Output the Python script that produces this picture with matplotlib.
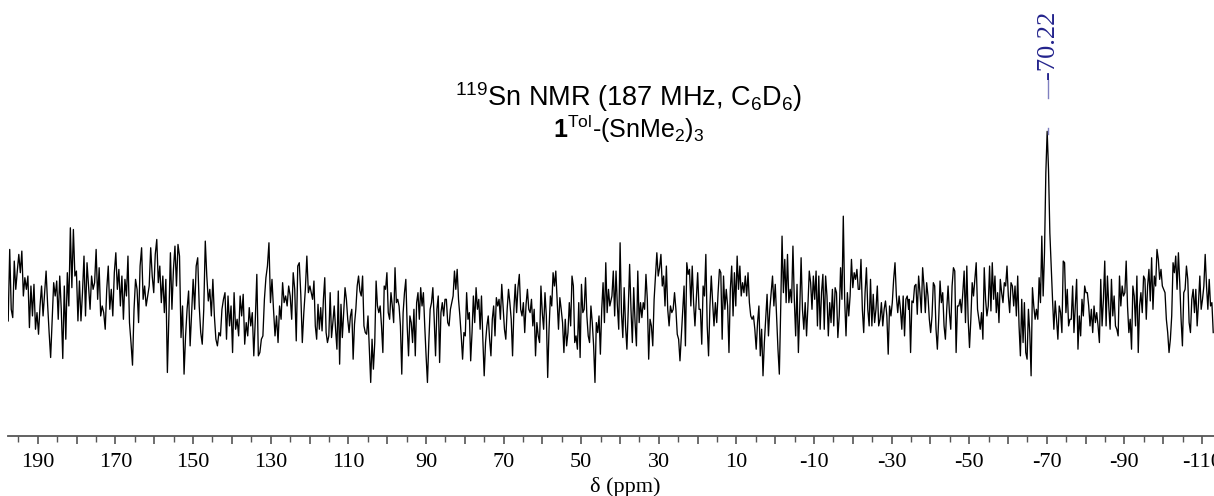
import numpy as np
import matplotlib
matplotlib.use("Agg")
import matplotlib.pyplot as plt
from matplotlib.ticker import MultipleLocator, FuncFormatter
import matplotlib.transforms as mtransforms

plt.rcParams['mathtext.fontset'] = 'custom'
plt.rcParams['mathtext.rm'] = 'Liberation Sans'
plt.rcParams['mathtext.it'] = 'Liberation Sans:italic'
plt.rcParams['mathtext.bf'] = 'Liberation Sans:bold'

# ---- data: 119Sn spectrum, intensity in arbitrary units, four ppm segments ----
seg1_ppm = (197.65, 119.9)
seg1_int = [-65, 150, -30, -55, 115, 30, 85, 135, 80, 145, 10, 65, 30, 70, -85, 40, -50, 45, -90, -40,
            -105, -20, 40, -50, 20, 85, -15, -100, -175, -60, 50, 10, 55, -60, 70, -30, -178, 40, -120, 80,
            -20, 215, 35, 210, 70, 85, -65, 55, -65, 20, 130, -50, 110, 40, -30, 70, 30, 50, 150, 0,
            95, -50, -20, -40, -90, 30, 100, -30, 30, -50, 80, 140, 30, 90, -20, 70, -60, 60, 10, 130,
            -70, -130, -198, -30, 60, 30, -70, 100, 155, 0, 40, -20, 10, 40, 155, 70, 20, 135, 180, 50,
            100, -10, 70, -40, 60, -220, -50, 140, -30, 90, 160, 40, 165, 130, -115, -20, -225, -110, -30, 25,
            -140, -40, 60, -30, 100, 125, -20, -100, -135, -30, 175, 70, -5, 30, -50, 60, -50, -120, -140, -100,
            -110, -30, 0, 20, -120, 10, -80, -20, -160, 20, -90, -60, -110, 10, -50, 15, -135, -70, -110, -25,
            -80, -40, -170, -60, 75, -170, -160, -120, -110, 0, 65, 100, 170, -10, 60, -30, -110, -50, -130, -20,
            -60, 50, -10, 10, -20, 40, 10, -60, 80, 30, -125, 100, 110, 15, -130, -40, 30, 130, 20, 40]

seg2_ppm = (119.2, 42.6)
seg2_int = [0, 55, -80, -120, -15, -90, -25, -95, 0, 65, -100, -130, -110, 20, -115, -70, -20, -90, -150, 25,
            -195, -15, -115, -40, 35, 0, -60, -100, -50, -30, -180, -75, -30, 40, 70, 25, 10, 70, -80, -100,
            -105, -50, -150, -250, -120, -210, -130, 55, -20, -40, -20, -80, -160, 40, 30, 80, -40, -60, 20, -20,
            -70, 95, -10, 0, -20, -80, -225, -40, 20, 60, -80, -170, -50, -70, -130, -30, -170, -10, 20, -60,
            35, -20, 20, -80, -170, -250, -130, -30, -10, 35, -60, -170, -30, 10, -190, -40, -10, -50, 0, 0,
            -70, -80, -30, -10, 10, 85, 30, 90, 0, -50, -110, -180, -100, -110, 20, -60, -40, -185, -100, 10,
            -70, 35, -30, 0, -90, 10, -120, -230, -130, -80, -50, -120, -170, -60, -20, -110, 5, -20, 0, -60,
            45, -20, -90, -120, -30, 30, -10, -60, -170, -30, 45, -40, 35, 75, -30, -50, -10, -100, -15, 30,
            -30, -40, 0, -80, -30, -170, -70, -110, -130, 40, -40, -90, 20, -50, -235, -90, 10, -20, 80, 40,
            85, 0, -90, 5, -30, -70, -160, -60, -140, -100, -10, -80, 70, 40, -130, -110, -150, -10, -175, 45,
            -40, -30, 65, -50, -110, -130, -20, -70, -140, -250, -70, -100, -50, -165, -30, 50, -70, 110, -40, 30,
            -20]

seg3_ppm = (42.06, -34.4)
seg3_int = [10, 85, -50, 85, -20, -90, 170, -40, -115, 35, -80, -150, -30, 105, -30, -130, 35, -70, -140, 85,
            -70, -10, -55, -10, -30, 75, 0, -180, -60, -80, -140, 0, 70, 140, 70, 95, 135, 40, 70, -20,
            100, -30, -80, -20, -40, -30, 20, -30, -105, -120, -185, -110, -30, 40, -140, 110, 75, 90, -20, 100,
            -10, -80, 0, 80, -30, -30, -135, 40, 10, 135, -80, -170, -20, 70, -10, -80, -10, -70, 20, 90,
            80, -120, 70, -30, 30, -20, -160, 30, 100, -50, 80, -20, 130, 30, 100, 10, 50, 20, 70, 10,
            80, -10, -50, -60, -50, -90, -150, -70, -20, -170, -90, -230, -130, -60, 15, -110, -30, 20, 70, -20,
            45, -50, -150, -225, -30, 190, 20, 120, -10, 135, -10, 30, -10, 160, 0, -110, 45, -160, -30, 125,
            -30, -90, -10, -110, -20, 85, 50, -30, 70, 0, 85, -80, 70, -90, 20, 75, -90, 70, 10, -110,
            -10, -70, 30, -80, 35, 20, -115, -50, 95, 0, 250, 0, -110, 20, -50, 10, 120, 35, 80, 60,
            90, 30, 30, 120, -30, -100, 20, 95, -30, -80, 60, -80, 15, -70, -30, 40, -80, -60, -10, -80,
            -30, -5, -50, -165, -20, -50, -10, 60, 110, 10, -40, 10, -30, -90, 10, -110, 0, 10, -30]

seg4_ppm = (-34.56, -112.9)
seg4_int = [0, -160, -5, -10, 40, 45, -45, 70, 20, -40, 95, 40, -40, 50, 10, -60, -100, -50, 50, 40,
            -90, -150, -60, 55, -10, 20, -80, -120, -30, 40, -40, -90, 40, 95, 85, -160, -20, -20, 0, -40,
            20, 85, -70, 100, -60, -145, -60, 50, 10, 60, 110, -30, -60, -90, -40, -120, 95, 0, -50, -20,
            100, -35, 110, 0, 70, -40, 20, -70, 60, 20, -10, 50, 40, 100, 10, -40, 50, 40, -20, 40,
            -50, 70, -80, -170, 0, -130, -10, -160, -180, -30, -100, -230, 35, -20, -60, -30, -60, 65, -10, 190,
            10, 140, 380, 505, 390, 200, 100, 0, -90, -5, -60, -120, -20, -40, -100, 115, 110, -40, 30, -80,
            -60, -60, 40, -100, -20, 60, -150, -50, -110, 0, -50, 40, 20, 20, -20, -80, -30, -100, -20, -70,
            -40, -80, -130, 60, -80, 0, 115, -80, 70, -20, -90, 60, -50, 10, -80, -90, -110, 70, -20, 40,
            10, 20, 115, -20, -100, -60, -150, 40, 10, -80, 70, -160, -20, 20, -40, 70, 60, -60, 40, 90,
            -5, 125, -30, 70, 40, 150, 120, 60, 90, 40, 30, 20, -60, -100, -160, -120, -50, 110, 80, 130,
            30, 140, 50, -60, -140, 20, 30, 100, 60, -70, -100, 0, 30, -40, 30, -80, -10, 70, -30, 0,
            40, 135, 40, -30, 60, -20, -10, -100]

peak_labels = [-70.22]

xlim = (197.7, -113.1)
ylim = (-411, 900)
major_step = 10
minor_step = 5

# ---- figure ----
fig = plt.figure(figsize=(12.14, 4.96), dpi=100)
ax = fig.add_axes([8 / 1214, 60 / 496, 1 - 8 / 1214, 436 / 496])

ppm = np.concatenate([np.linspace(seg1_ppm[0], seg1_ppm[1], len(seg1_int)),
                      np.linspace(seg2_ppm[0], seg2_ppm[1], len(seg2_int)),
                      np.linspace(seg3_ppm[0], seg3_ppm[1], len(seg3_int)),
                      np.linspace(seg4_ppm[0], seg4_ppm[1], len(seg4_int))])
inten = np.concatenate([seg1_int, seg2_int, seg3_int, seg4_int]).astype(float)
ax.plot(ppm, inten, color='black', lw=0.95)

ax.set_xlim(*xlim)
ax.set_ylim(*ylim)
for s in ['top', 'left', 'right']:
    ax.spines[s].set_visible(False)
ax.spines['bottom'].set_color('#555555')
ax.spines['bottom'].set_linewidth(1.3)
ax.set_yticks([])
ax.xaxis.set_major_locator(MultipleLocator(major_step))
ax.xaxis.set_minor_locator(MultipleLocator(minor_step))


def fmt(v, pos):
    iv = int(round(v))
    return f"{iv}" if (iv - 10) % 20 == 0 else ""


ax.xaxis.set_major_formatter(FuncFormatter(fmt))
ax.tick_params(axis='x', which='major', direction='out', length=6, width=1.2, color='#555555',
               labelsize=16, pad=6)
ax.tick_params(axis='x', which='minor', direction='out', length=4, width=1.0, color='#555555')
for lab in ax.get_xticklabels():
    lab.set_fontfamily('Liberation Serif')

fig.text(625 / 1214, 1 - 492 / 496, 'δ (ppm)', ha='center', va='baseline',
         fontsize=16, family='Liberation Serif')

# titles
fig.text(629 / 1214, 1 - 106 / 496, r'$^{119}$Sn NMR (187 MHz, C$_6$D$_6$)', ha='center',
         va='baseline', fontsize=19.5, family='Liberation Sans')
fig.text(629 / 1214, 1 - 138 / 496, r'$\mathbf{1}^{\mathrm{Tol}}$-(SnMe$_2$)$_3$', ha='center',
         va='baseline', fontsize=18, family='Liberation Sans')

# peak label
trans = mtransforms.blended_transform_factory(ax.transData, ax.transAxes)
for pk in peak_labels:
    ax.text(pk, (436 - 79) / 436, f"{pk:.2f}", rotation=90, ha='center', va='bottom',
            fontsize=19, fontfamily='Liberation Serif', color='#23238c', transform=trans)
    ax.plot([pk, pk], [(436 - 98) / 436, (436 - 80) / 436], color='#8080c0', lw=1.0, transform=trans)
    ax.plot([pk, pk], [(436 - 134) / 436, (436 - 128) / 436], color='#8080c0', lw=1.0, transform=trans)

fig.savefig('out.png', dpi=100)
